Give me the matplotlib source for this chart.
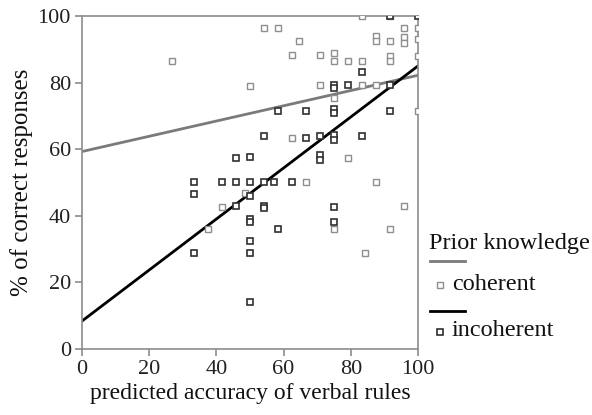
import matplotlib
matplotlib.use("Agg")
import matplotlib.pyplot as plt
from matplotlib.lines import Line2D

# predicted accuracy (x) and % correct (y)
coh_x = [26.7, 50, 83.3, 91.7, 54.2, 58.3, 64.6, 87.5, 87.5, 91.7, 95.8, 95.8, 95.8,
         100, 100, 100, 62.5, 70.8, 75, 75, 79.2, 83.3, 91.7, 91.7, 70.8, 83.3, 87.5,
         75, 100, 62.5, 79.2, 66.7, 87.5, 41.7, 95.8, 37.5, 75, 91.7, 84.3, 48.5]
coh_y = [86.4, 79, 100, 100, 96.4, 96.4, 92.5, 94, 92.5, 92.5, 96.4, 93.7, 92,
         96.4, 93, 88, 88.3, 88.3, 88.8, 86.4, 86.4, 86.4, 88, 86.4, 79.2, 79.2, 79.2,
         75.3, 71.4, 63.3, 57.5, 50, 50, 42.5, 43, 36.1, 36.1, 36.1, 28.9, 46.7]

inc_x = [100, 91.7, 83.3, 75, 75, 79.2, 91.7, 58.3, 66.7, 75, 75, 91.7, 54.2, 66.7,
         70.8, 75, 75, 83.3, 45.8, 50, 70.8, 70.8, 33.3, 41.7, 45.8, 50, 54.2, 57.1,
         62.5, 33.3, 50, 45.8, 54.2, 54.2, 75, 50, 50, 50, 50, 33.3, 58.3, 75, 50]
inc_y = [100, 100, 83.1, 79.2, 78.3, 79.2, 79.2, 71.4, 71.4, 72, 71, 71.4, 63.9, 63.3,
         63.9, 64.2, 62.7, 63.9, 57.5, 57.8, 58.4, 56.9, 50, 50, 50, 50, 50, 50,
         50, 46.4, 46, 43, 43, 42.2, 42.5, 38.9, 38, 32.5, 28.9, 28.9, 36.1, 38, 14.2]

# fitted lines (end values at x = 0 and x = 100)
fit_x = [0, 100]
coh_fit = [59.3, 82.2]
inc_fit = [8.4, 85.0]

plt.rcParams['font.family'] = ['Liberation Serif', 'DejaVu Serif']

W, H = 592, 415
fig = plt.figure(figsize=(W / 100, H / 100), dpi=100)
ax = fig.add_axes([82 / W, 1 - 349 / H, 336 / W, 333 / H])

gray = '#8c8c8c'
coh_col = '#7a7a7a'

ax.plot(coh_x, coh_y, 's', ms=4.2, mfc='white', mec='#8e8e8e', mew=1.0, zorder=3)
ax.plot(inc_x, inc_y, 's', ms=4.2, mfc='white', mec='#303030', mew=1.2, zorder=3)
ax.plot(fit_x, coh_fit, color=coh_col, lw=2, zorder=2)
ax.plot(fit_x, inc_fit, color='black', lw=2, zorder=2)

ax.set_xlim(0, 100)
ax.set_ylim(0, 100)
ax.set_xticks([0, 20, 40, 60, 80, 100])
ax.set_yticks([0, 20, 40, 60, 80, 100])
for s in ax.spines.values():
    s.set_color(gray)
    s.set_linewidth(1.2)
ax.tick_params(colors=gray, labelcolor='#222222', labelsize=16, length=5, width=1.2,
               direction='out', pad=3)
ax.set_xlabel('predicted accuracy of verbal rules', fontsize=17, color='#111111', labelpad=3)
ax.set_ylabel('% of correct responses', fontsize=18, color='#111111', labelpad=3)

# legend drawn by hand, positions in figure pixels
def fx(x):
    return x / W

def fy(y):
    return 1 - y / H

fig.text(fx(429), fy(243), 'Prior knowledge', fontsize=17.5, va='center', ha='left', color='#111111')
fig.add_artist(Line2D([fx(430), fx(465)], [fy(261), fy(261)], color=coh_col, lw=2))
fig.add_artist(Line2D([fx(440)], [fy(285)], ls='none', marker='s', ms=4, mfc='white',
                      mec='#8e8e8e', mew=1.0))
fig.text(fx(452), fy(284), 'coherent', fontsize=17.5, va='center', ha='left', color='#111111')
fig.add_artist(Line2D([fx(430), fx(465)], [fy(310.5), fy(310.5)], color='black', lw=2))
fig.add_artist(Line2D([fx(440)], [fy(332)], ls='none', marker='s', ms=4, mfc='white',
                      mec='#303030', mew=1.2))
fig.text(fx(452), fy(331), 'incoherent', fontsize=17.5, va='center', ha='left', color='#111111')

fig.savefig('out.png', dpi=100)
